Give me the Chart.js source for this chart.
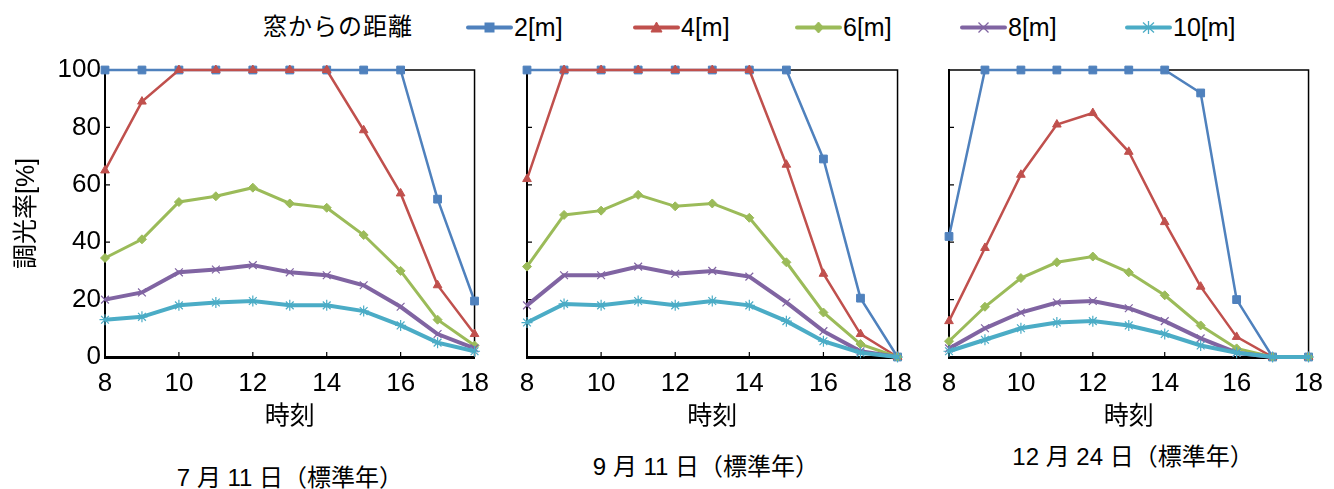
<!DOCTYPE html>
<html lang="ja">
<head>
<meta charset="utf-8">
<script src="https://cdn.jsdelivr.net/npm/chart.js@4.4.1/dist/chart.umd.min.js"></script>
<style>
  body {
    margin: 0;
    width: 1334px;
    height: 489px;
    position: relative;
    overflow: hidden;
    background: #fff;
    color: #000;
    font-family: "Liberation Sans", "Noto Sans CJK JP", sans-serif;
  }
  canvas { position: absolute; top: 40px; }
  #jul { left: 0; }
  #sep { left: 507px; }
  #dec { left: 929px; }
  .legend-head, .legend-item {
    position: absolute;
    top: 12px;
    height: 30px;
    line-height: 30px;
    font-size: 25px;
    display: flex;
    align-items: center;
  }
  .legend-head { left: 263px; font-size: 24px; letter-spacing: 1px; }
  .legend-item svg { margin-right: 1px; }
  .caption {
    position: absolute;
    width: 320px;
    text-align: center;
    font-size: 24px;
    line-height: 30px;
  }
</style>
</head>
<body>
<div class="legend-head">窓からの距離</div>
<div id="legend"></div>

<canvas id="jul" width="500" height="400"></canvas>
<canvas id="sep" width="416" height="400"></canvas>
<canvas id="dec" width="405" height="400"></canvas>

<div class="caption" style="left:130px; top:463px;">7 月 11 日（標準年）</div>
<div class="caption" style="left:546px; top:452px;">9 月 11 日（標準年）</div>
<div class="caption" style="left:973px; top:442px;">12 月 24 日（標準年）</div>

<script>
const hours = [8, 9, 10, 11, 12, 13, 14, 15, 16, 17, 18];
const seriesNames = ["2[m]", "4[m]", "6[m]", "8[m]", "10[m]"];

// 7月11日
const jul2 = [100, 100, 100, 100, 100, 100, 100, 100, 100, 55, 19.5];
const jul4 = [65, 89, 100, 100, 100, 100, 100, 79, 57, 25, 8];
const jul6 = [34.5, 41, 54, 56, 59, 53.5, 52, 42.5, 30, 13, 4];
const jul8 = [20, 22.5, 29.5, 30.5, 32, 29.5, 28.5, 25, 17.5, 8, 3];
const jul10 = [13, 14, 18, 19, 19.5, 18, 18, 16, 11, 5, 2];

// 9月11日
const sep2 = [100, 100, 100, 100, 100, 100, 100, 100, 69, 20.5, 0];
const sep4 = [62, 100, 100, 100, 100, 100, 100, 67, 29, 8, 0];
const sep6 = [31.5, 49.5, 51, 56.5, 52.5, 53.5, 48.5, 33, 15.5, 4.5, 0];
const sep8 = [18, 28.5, 28.5, 31.5, 29, 30, 28, 19, 9, 2, 0];
const sep10 = [12, 18.5, 18, 19.5, 18, 19.5, 18, 12.5, 5.5, 1.5, 0];

// 12月24日
const dec2 = [42, 100, 100, 100, 100, 100, 100, 92, 20, 0, 0];
const dec4 = [12.5, 38, 63.5, 81, 85, 71.5, 47, 24.5, 7, 0, 0];
const dec6 = [5.5, 17.5, 27.5, 33, 35, 29.5, 21.5, 11, 3, 0, 0];
const dec8 = [3, 10, 15.5, 19, 19.5, 17, 12.5, 6.5, 1.5, 0, 0];
const dec10 = [2, 6, 10, 12, 12.5, 11, 8, 4, 1.5, 0, 0];

const xTicks = [8, 10, 12, 14, 16, 18];
const yTicks = [0, 20, 40, 60, 80, 100];

const seriesStyle = [
  { color: "#4F81BD", width: 2.5, point: "rect", radius: 5.5, pointWidth: 1 },
  { color: "#C0504D", width: 2.5, point: "triangle", radius: 5, pointWidth: 1 },
  { color: "#9BBB59", width: 3, point: "rectRot", radius: 4.5, pointWidth: 1 },
  { color: "#8064A2", width: 4, point: "crossRot", radius: 5.5, pointWidth: 1.2 },
  { color: "#4BACC6", width: 4, point: "star", radius: 5.5, pointWidth: 1.2 }
];

Chart.defaults.font.family = '"Liberation Sans", "Noto Sans CJK JP", sans-serif';
Chart.defaults.color = "#000";

// box top/right + inward tick marks
const framePlugin = {
  id: "frame",
  beforeDatasetsDraw(chart) {
    const { ctx, chartArea: a, scales: { x, y } } = chart;
    ctx.save();
    ctx.strokeStyle = "#000";
    ctx.lineWidth = 1.5;
    ctx.beginPath();
    ctx.moveTo(a.left, a.top);
    ctx.lineTo(a.right, a.top);
    ctx.lineTo(a.right, a.bottom);
    ctx.stroke();
    ctx.lineWidth = 1.2;
    ctx.beginPath();
    xTicks.slice(1, -1).forEach(v => {
      const px = x.getPixelForValue(v);
      ctx.moveTo(px, a.bottom);
      ctx.lineTo(px, a.bottom - 5);
    });
    yTicks.slice(1, -1).forEach(v => {
      const py = y.getPixelForValue(v);
      ctx.moveTo(a.left, py);
      ctx.lineTo(a.left + 5, py);
    });
    ctx.stroke();
    ctx.restore();
  }
};

function createPanel(id, series, withYAxis) {
  return new Chart(document.getElementById(id), {
    type: "line",
    data: {
      datasets: series.map((values, i) => ({
        label: seriesNames[i],
        data: hours.map((h, j) => ({ x: h, y: values[j] })),
        borderColor: seriesStyle[i].color,
        backgroundColor: seriesStyle[i].color,
        borderWidth: seriesStyle[i].width,
        pointStyle: seriesStyle[i].point,
        pointRadius: seriesStyle[i].radius,
        pointBorderWidth: seriesStyle[i].pointWidth,
        pointBorderColor: seriesStyle[i].color,
        pointBackgroundColor: seriesStyle[i].color,
        tension: 0,
        clip: false,
        order: series.length - i
      }))
    },
    options: {
      responsive: false,
      animation: false,
      events: [],
      layout: { padding: { left: withYAxis ? 0 : 20, top: 30, right: 24, bottom: 0 } },
      plugins: { legend: { display: false }, tooltip: { enabled: false } },
      scales: {
        x: {
          type: "linear",
          min: 8,
          max: 18,
          afterBuildTicks: s => { s.ticks = xTicks.map(v => ({ value: v })); },
          afterFit: s => { s.height = 83; },
          grid: { display: false, drawTicks: false },
          border: { display: true, color: "#000", width: 3 },
          ticks: { font: { size: 26 }, padding: 11, maxRotation: 0 },
          title: { display: true, text: "時刻", font: { size: 25 }, padding: { top: 0, bottom: 8 } }
        },
        y: {
          min: 0,
          max: 100,
          afterBuildTicks: s => { s.ticks = yTicks.map(v => ({ value: v })); },
          afterFit: s => { s.width = withYAxis ? 105 : 0; },
          grid: { display: false, drawTicks: false },
          border: { display: true, color: "#000", width: 2 },
          ticks: { display: withYAxis, font: { size: 26 }, padding: 4 },
          title: { display: withYAxis, text: "調光率[%]", font: { size: 25 }, padding: { top: 12, bottom: 0 } }
        }
      }
    },
    plugins: [framePlugin]
  });
}

createPanel("jul", [jul2, jul4, jul6, jul8, jul10], true);
createPanel("sep", [sep2, sep4, sep6, sep8, sep10], false);
createPanel("dec", [dec2, dec4, dec6, dec8, dec10], false);

// shared legend
const legendLefts = [466, 633, 795, 960, 1125];
const markerSvg = [
  '<rect x="19" y="4" width="9" height="9"/>',
  '<polygon points="23.5,3 29,13 18,13"/>',
  '<polygon points="23.5,3 28.5,8.5 23.5,14 18.5,8.5"/>',
  '<path d="M18.5 3.5 L28.5 13.5 M28.5 3.5 L18.5 13.5" fill="none" stroke-width="1.3"/>',
  '<path d="M23.5 2 V15 M18 3.5 L29 13.5 M29 3.5 L18 13.5" fill="none" stroke-width="1.3"/>'
];
const legend = document.getElementById("legend");
seriesNames.forEach((name, i) => {
  const c = seriesStyle[i].color;
  const item = document.createElement("div");
  item.className = "legend-item";
  item.style.left = legendLefts[i] + "px";
  item.innerHTML =
    '<svg width="47" height="17" fill="' + c + '" stroke="' + c + '">' +
    '<line x1="2" y1="8.5" x2="45" y2="8.5" stroke-width="4" stroke-linecap="round"/>' +
    markerSvg[i] + '</svg><span>' + name + '</span>';
  legend.appendChild(item);
});
</script>
</body>
</html>
